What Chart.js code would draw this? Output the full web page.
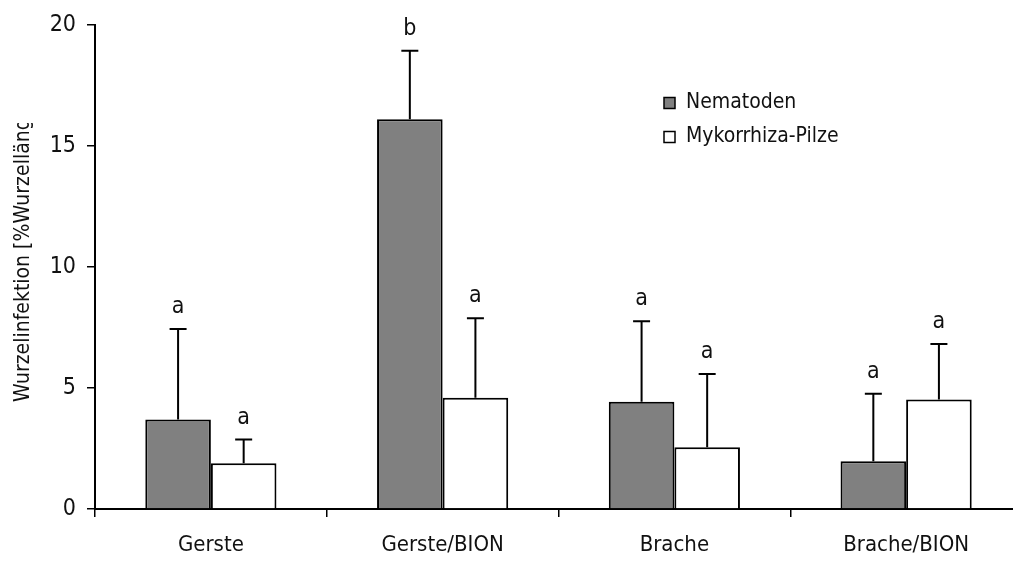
<!DOCTYPE html>
<html>
<head>
<meta charset="utf-8">
<script src="https://cdn.jsdelivr.net/npm/chart.js@4"></script>
<style>
  html, body { margin: 0; padding: 0; background: #fff; overflow: hidden; }
  #wrap { width: 1032px; height: 563px; }
</style>
</head>
<body>
<div id="wrap"><canvas id="c" width="1032" height="563"></canvas></div>
<script>
// Root infection by treatment (mean and upward SD)
const categories = ['Gerste', 'Gerste/BION', 'Brache', 'Brache/BION'];
const seriesNames = ['Nematoden', 'Mykorrhiza-Pilze'];
const nematoden = [3.7, 16.1, 4.43, 1.97];
const nematodenErr = [3.73, 2.83, 3.33, 2.79];
const mykorrhiza = [1.89, 4.6, 2.55, 4.52];
const mykorrhizaErr = [0.98, 3.28, 3.03, 2.3];
const nematodenLetters = ['a', 'b', 'a', 'a'];
const mykorrhizaLetters = ['a', 'a', 'a', 'a'];
const yTicks = [0, 5, 10, 15, 20];
const yTitle = 'Wurzelinfektion [%Wurzellänge]';

const FONT = "'Liberation Sans Narrow', 'Arial Narrow', 'DejaVu Sans Condensed', sans-serif";

// upward error bars with significance letters
const errorBars = {
  id: 'errorBars',
  afterDatasetsDraw(chart) {
    const ctx = chart.ctx;
    const y = chart.scales.y;
    chart.data.datasets.forEach((ds, i) => {
      const meta = chart.getDatasetMeta(i);
      meta.data.forEach((bar, j) => {
        const top = y.getPixelForValue(ds.data[j] + ds.err[j]);
        ctx.save();
        ctx.strokeStyle = '#000';
        ctx.lineWidth = 2;
        ctx.beginPath();
        ctx.moveTo(bar.x, bar.y);
        ctx.lineTo(bar.x, top);
        ctx.moveTo(bar.x - 8.5, top);
        ctx.lineTo(bar.x + 8.5, top);
        ctx.stroke();
        ctx.fillStyle = '#111';
        ctx.font = '23px ' + FONT;
        ctx.textAlign = 'center';
        ctx.textBaseline = 'alphabetic';
        ctx.fillText(ds.letters[j], bar.x, top - 16);
        ctx.restore();
      });
    });
  }
};

// legend placed inside the plot area
const boxLegend = {
  id: 'boxLegend',
  afterDraw(chart) {
    const ctx = chart.ctx;
    const a = chart.chartArea;
    const x0 = a.left + 569;
    const y0 = 103;
    ctx.save();
    chart.data.datasets.forEach((ds, i) => {
      const yy = y0 + i * 34;
      ctx.fillStyle = ds.backgroundColor;
      ctx.fillRect(x0, yy - 5.5, 11, 11);
      ctx.strokeStyle = '#000';
      ctx.lineWidth = 1.5;
      ctx.strokeRect(x0, yy - 5.5, 11, 11);
      ctx.fillStyle = '#111';
      ctx.font = '21px ' + FONT;
      ctx.textAlign = 'left';
      ctx.textBaseline = 'middle';
      ctx.fillText(ds.label, x0 + 22, yy);
    });
    ctx.restore();
  }
};

// rotated y-axis title, cut off at its top by the frame
const yTitlePlugin = {
  id: 'yTitlePlugin',
  afterDraw(chart) {
    const ctx = chart.ctx;
    ctx.save();
    ctx.beginPath();
    ctx.rect(0, 123, 60, 440);
    ctx.clip();
    ctx.translate(24, 402);
    ctx.rotate(-Math.PI / 2);
    ctx.fillStyle = '#111';
    ctx.font = '21px ' + FONT;
    ctx.textAlign = 'left';
    ctx.textBaseline = 'middle';
    ctx.fillText(yTitle, 0, 0);
    ctx.restore();
  }
};

new Chart(document.getElementById('c'), {
  type: 'bar',
  data: {
    labels: categories,
    datasets: [
      { label: seriesNames[0], data: nematoden, err: nematodenErr, letters: nematodenLetters,
        backgroundColor: '#808080', borderColor: '#000', borderWidth: 2 },
      { label: seriesNames[1], data: mykorrhiza, err: mykorrhizaErr, letters: mykorrhizaLetters,
        backgroundColor: '#ffffff', borderColor: '#000', borderWidth: 2 }
    ]
  },
  options: {
    responsive: false,
    devicePixelRatio: 1,
    animation: false,
    layout: { padding: { left: 0, right: 10, top: 21, bottom: 0 } },
    datasets: { bar: { barPercentage: 1, categoryPercentage: 0.566, borderSkipped: 'bottom' } },
    plugins: { legend: { display: false }, tooltip: { enabled: false } },
    scales: {
      x: {
        afterFit(s) { s.height = 54; },
        grid: { offset: true, drawOnChartArea: false, drawTicks: true, tickLength: 8, color: '#000', lineWidth: 1.5 },
        border: { color: '#000', width: 2 },
        ticks: { color: '#111', font: { family: FONT, size: 22 }, padding: 15, maxRotation: 0 }
      },
      y: {
        min: 0, max: 20,
        afterFit(s) { s.width = 95; },
        afterBuildTicks(s) { s.ticks = yTicks.map(v => ({ value: v })); },
        grid: { drawOnChartArea: false, tickLength: 8, color: '#000', lineWidth: 1.5 },
        border: { color: '#000', width: 2 },
        ticks: { color: '#111', font: { family: FONT, size: 23 }, padding: 11 }
      }
    }
  },
  plugins: [errorBars, boxLegend, yTitlePlugin]
});
</script>
</body>
</html>
